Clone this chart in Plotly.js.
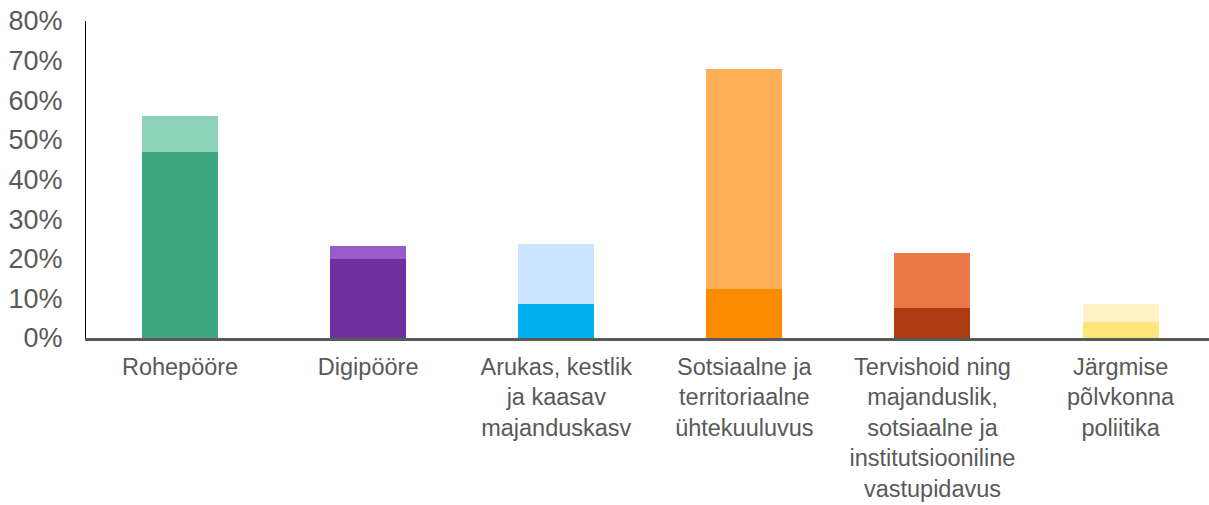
<!DOCTYPE html>
<html>
<head>
<meta charset="utf-8">
<script src="https://cdn.plot.ly/plotly-3.0.1.min.js"></script>
<style>
  html, body { margin: 0; padding: 0; background: #ffffff; }
  #plot { width: 1209px; height: 505px; }
</style>
</head>
<body>
<div id="plot"></div>
<script>
const categories = [
  'Rohepööre',
  'Digipööre',
  'Arukas, kestlik<br>ja kaasav<br>majanduskasv',
  'Sotsiaalne ja<br>territoriaalne<br>ühtekuuluvus',
  'Tervishoid ning<br>majanduslik,<br>sotsiaalne ja<br>institutsiooniline<br>vastupidavus',
  'Järgmise<br>põlvkonna<br>poliitika'
];

// lower (dark) segment and upper (light) segment, in %
const lowerValues = [47, 20, 8.6, 12.4, 7.6, 4.0];
const upperValues = [9, 3.2, 15.2, 55.6, 13.9, 4.6];

const lowerColors = ['#40a783', '#70309f', '#00b0f0', '#fb8c00', '#ae3c12', '#ffe57a'];
const upperColors = ['#8ad2b8', '#9b5bcb', '#cce5ff', '#ffb057', '#ec784a', '#fff2c6'];

const TEXT_COLOR = '#595959';
const FONT = 'Liberation Sans, Arial, sans-serif';

const traces = [
  {
    x: categories,
    y: lowerValues,
    type: 'bar',
    name: 'lower',
    marker: { color: lowerColors, line: { width: 0 } },
    hoverinfo: 'skip'
  },
  {
    x: categories,
    y: upperValues,
    type: 'bar',
    name: 'upper',
    marker: { color: upperColors, line: { width: 0 } },
    hoverinfo: 'skip'
  }
];

const layout = {
  width: 1209,
  height: 505,
  barmode: 'stack',
  bargap: 0.596,
  showlegend: false,
  paper_bgcolor: '#ffffff',
  plot_bgcolor: '#ffffff',
  font: { family: FONT, size: 24, color: TEXT_COLOR },
  margin: { l: 86, r: 0, t: 21, b: 167 },
  xaxis: {
    range: [-0.5, 5.47],
    showline: true,
    linecolor: '#595959',
    linewidth: 2.5,
    showgrid: false,
    zeroline: false,
    ticks: '',
    ticklabelstandoff: 6,
    tickfont: { family: FONT, size: 23.5, color: TEXT_COLOR }
  },
  yaxis: {
    range: [0, 80],
    dtick: 10,
    ticksuffix: '%',
    showline: true,
    linecolor: '#000000',
    linewidth: 1,
    showgrid: false,
    zeroline: false,
    ticks: '',
    ticklabelstandoff: 17,
    tickfont: { family: FONT, size: 27, color: TEXT_COLOR }
  }
};

Plotly.newPlot('plot', traces, layout, { displayModeBar: false, staticPlot: true });
</script>
</body>
</html>
